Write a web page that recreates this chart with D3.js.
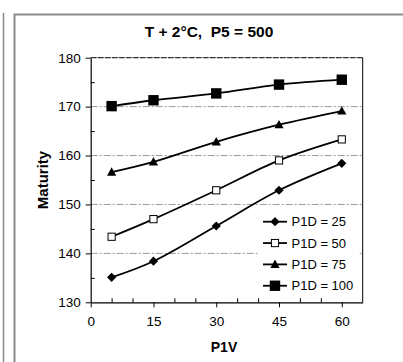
<!DOCTYPE html>
<html>
<head>
<meta charset="utf-8">
<script src="https://cdn.jsdelivr.net/npm/d3@7"></script>
<style>
  body { margin: 0; background: #fff; }
  text { font-family: "Liberation Sans", Arial, sans-serif; fill: #000; white-space: pre; }
</style>
</head>
<body>
<script>
// data
var p1v = [5, 15, 30, 45, 60]
var seriesNames = ['P1D = 25', 'P1D = 50', 'P1D = 75', 'P1D = 100']
var p1d25 = [135.1, 138.4, 145.6, 152.9, 158.4]
var p1d50 = [143.4, 147.0, 152.9, 159.0, 163.3]
var p1d75 = [156.6, 158.7, 162.8, 166.3, 169.1]
var p1d100 = [170.1, 171.3, 172.7, 174.5, 175.5]
var markers = ['diamond', 'open', 'triangle', 'square']
var xTicks = [0, 15, 30, 45, 60]
var xMinor = [5, 10, 20, 25, 35, 40, 50, 55]
var yTicks = [130, 140, 150, 160, 170, 180]
var yMinor = [135, 145, 155, 165, 175]
var gridValues = [140, 150, 160, 170]

var w = 403, h = 362

var svg = d3.select('body').append('svg')
    .attr('width', w)
    .attr('height', h)

// outer frames (gray)
svg.append('line').attr('x1', 3.5).attr('x2', 3.5).attr('y1', 13).attr('y2', h)
    .attr('stroke', '#8a8a8a').attr('stroke-width', 1.5)
svg.append('path').attr('d', 'M14.5,' + h + 'V14.5H' + w)
    .attr('fill', 'none').attr('stroke', '#8a8a8a').attr('stroke-width', 2)

var x = d3.scaleLinear().domain([0, 65]).range([90.7, 362.7])
var y = d3.scaleLinear().domain([130, 180]).range([302.3, 57.7])

// gridlines
svg.selectAll('.grid').data(gridValues).enter().append('line')
    .attr('x1', x(0)).attr('x2', x(65))
    .attr('y1', function(d) { return y(d) }).attr('y2', function(d) { return y(d) })
    .attr('stroke', '#9a9a9a').attr('stroke-width', 1)
    .attr('stroke-dasharray', '7,2,2,2')

// plot area border: top dashed, right solid
svg.append('line').attr('x1', x(0)).attr('x2', x(65)).attr('y1', y(180)).attr('y2', y(180))
    .attr('stroke', '#333').attr('stroke-width', 1.2).attr('stroke-dasharray', '6,1')
svg.append('line').attr('x1', x(65)).attr('x2', x(65)).attr('y1', y(180)).attr('y2', y(130))
    .attr('stroke', '#000').attr('stroke-width', 1)

// legend background (hides part of gridline)
svg.append('rect').attr('x', 258).attr('y', 211).attr('width', 100).attr('height', 86)
    .attr('fill', '#fff')

// axes
var xAxis = svg.append('g').attr('transform', 'translate(0,' + y(130) + ')')
    .call(d3.axisBottom(x).tickValues(xTicks).tickSize(5).tickSizeOuter(0).tickPadding(9))
var xMinorAxis = svg.append('g').attr('transform', 'translate(0,' + y(130) + ')')
    .call(d3.axisBottom(x).tickValues(xMinor).tickSize(-4).tickSizeOuter(0).tickFormat(''))
xMinorAxis.select('.domain').remove()

var yAxis = svg.append('g').attr('transform', 'translate(' + x(0) + ',0)')
    .call(d3.axisLeft(y).tickValues(yTicks).tickSize(5).tickSizeOuter(0).tickPadding(5))
var yMinorAxis = svg.append('g').attr('transform', 'translate(' + x(0) + ',0)')
    .call(d3.axisLeft(y).tickValues(yMinor).tickSize(-4).tickSizeOuter(0).tickFormat(''))
yMinorAxis.select('.domain').remove()

svg.selectAll('.domain').attr('stroke', '#000').attr('stroke-width', 1.2)
svg.selectAll('.tick line').attr('stroke', '#000').attr('stroke-width', 1)
svg.selectAll('.tick text')
    .style('font-family', '"Liberation Sans", Arial, sans-serif')
    .style('font-size', '13.5px')
    .attr('fill', '#000')

// series
var allSeries = [p1d25, p1d50, p1d75, p1d100].map(function(vals, i) {
    return {
        name: seriesNames[i],
        marker: markers[i],
        points: vals.map(function(v, j) { return { x: p1v[j], y: v } })
    }
})

var line = d3.line()
    .x(function(d) { return x(d.x) })
    .y(function(d) { return y(d.y) })
    .curve(d3.curveCatmullRom.alpha(0.5))

//draw one marker shape centered at 0,0
function drawMarker(g, type) {
    if (type == 'diamond') {
        g.append('path').attr('d', 'M0,-4.6L4.6,0L0,4.6L-4.6,0Z').attr('fill', '#000')
    } else if (type == 'open') {
        g.append('rect').attr('x', -3.6).attr('y', -3.6).attr('width', 7.2).attr('height', 7.2)
            .attr('fill', '#fff').attr('stroke', '#000').attr('stroke-width', 1)
    } else if (type == 'triangle') {
        g.append('path').attr('d', 'M0,-4.8L4.6,3.6L-4.6,3.6Z').attr('fill', '#000')
    } else {
        g.append('rect').attr('x', -5.2).attr('y', -5.2).attr('width', 10.4).attr('height', 10.4)
            .attr('fill', '#000')
    }
}

allSeries.forEach(function(s) {
    svg.append('path')
        .datum(s.points)
        .attr('d', line)
        .attr('fill', 'none')
        .attr('stroke', '#000')
        .attr('stroke-width', 1.8)
    svg.selectAll(null).data(s.points).enter().append('g')
        .attr('transform', function(d) { return 'translate(' + x(d.x) + ',' + y(d.y) + ')' })
        .each(function() { drawMarker(d3.select(this), s.marker) })
})

// legend
var legend = svg.selectAll('.legend').data(allSeries).enter().append('g')
    .attr('transform', function(d, i) { return 'translate(263,' + (221.7 + i * 21.35) + ')' })
legend.append('line').attr('x1', 0).attr('x2', 24).attr('stroke', '#000').attr('stroke-width', 1.8)
legend.append('g').attr('transform', 'translate(12,0)')
    .each(function(d) { drawMarker(d3.select(this), d.marker) })
legend.append('text')
    .attr('x', 28.5).attr('y', 4.6)
    .style('font-size', '13px')
    .text(function(d) { return d.name })

// titles
svg.append('text').attr('x', 209).attr('y', 37).attr('text-anchor', 'middle')
    .style('font-size', '15.5px').style('font-weight', 'bold')
    .text('T + 2°C,  P5 = 500')
svg.append('text').attr('x', 224).attr('y', 352).attr('text-anchor', 'middle')
    .style('font-size', '14px').style('font-weight', 'bold')
    .text('P1V')
svg.append('text').attr('transform', 'translate(48,180) rotate(-90)').attr('text-anchor', 'middle')
    .style('font-size', '15px').style('font-weight', 'bold')
    .text('Maturity')
</script>
</body>
</html>
